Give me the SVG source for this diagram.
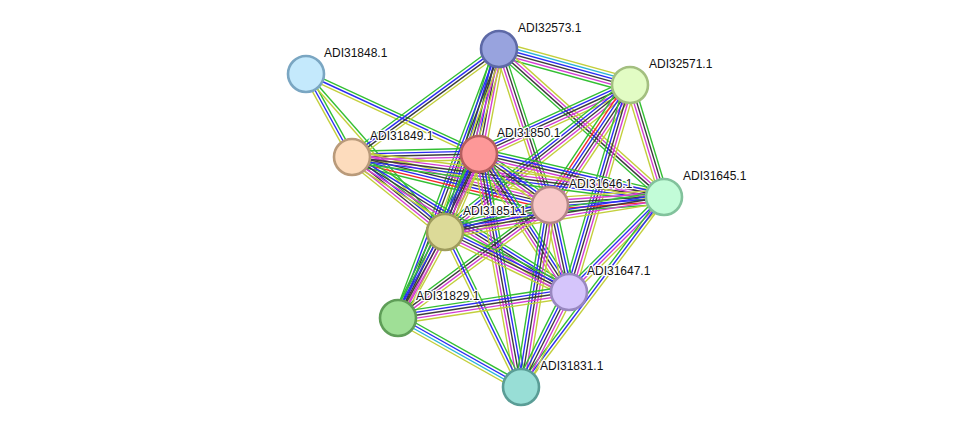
<svg xmlns="http://www.w3.org/2000/svg" width="975" height="433" viewBox="0 0 975 433">
<style>
line{stroke-width:1.15;fill:none}
.g{stroke:#33bf33}.r{stroke:#f52a2a}.b{stroke:#2b2bf2}.k{stroke:#3c3c3c}.m{stroke:#d23cd2}.c{stroke:#2ab3d9}.y{stroke:#c3cf3c}
.node circle{stroke-width:2.6}
text{font-family:"Liberation Sans",Arial,sans-serif;font-size:12px;fill:#111;paint-order:stroke;stroke:#fff;stroke-width:2.5px;stroke-linejoin:round}
</style>
<rect width="975" height="433" fill="#fff"/>
<g id="edges">
<g transform="translate(306 74) rotate(61.0) scale(1 1.2)"><line x2="94.9" y1="-2.4" y2="-2.4" class="g"/><line x2="94.9" class="b"/><line x2="94.9" y1="2.4" y2="2.4" class="y"/></g>
<g transform="translate(306 74) rotate(24.8) scale(1 1.2)"><line x2="190.6" y1="-2.4" y2="-2.4" class="g"/><line x2="190.6" class="b"/><line x2="190.6" y1="2.4" y2="2.4" class="y"/></g>
<g transform="translate(306 74) rotate(48.66) scale(1 1.2)"><line x2="210.4" y1="-1.2" y2="-1.2" class="g"/><line x2="210.4" y1="1.2" y2="1.2" class="y"/></g>
<g transform="translate(499 49) rotate(15.37) scale(1 1.2)"><line x2="135.9" y1="-6" y2="-6" class="y"/><line x2="135.9" y1="-3.6" y2="-3.6" class="c"/><line x2="135.9" y1="-1.2" y2="-1.2" class="b"/><line x2="135.9" y1="1.2" y2="1.2" class="k"/><line x2="135.9" y1="3.6" y2="3.6" class="m"/><line x2="135.9" y1="6" y2="6" class="g"/></g>
<g transform="translate(499 49) rotate(143.7) scale(1 1.2)"><line x2="182.4" y1="-3.6" y2="-3.6" class="y"/><line x2="182.4" y1="-1.2" y2="-1.2" class="k"/><line x2="182.4" y1="1.2" y2="1.2" class="b"/><line x2="182.4" y1="3.6" y2="3.6" class="g"/></g>
<g transform="translate(499 49) rotate(100.8) scale(1 1.2)"><line x2="106.9" y1="-4.8" y2="-4.8" class="y"/><line x2="106.9" y1="-2.4" y2="-2.4" class="m"/><line x2="106.9" class="k"/><line x2="106.9" y1="2.4" y2="2.4" class="b"/><line x2="106.9" y1="4.8" y2="4.8" class="g"/></g>
<g transform="translate(499 49) rotate(106.44) scale(1 1.2)"><line x2="190.8" y1="-4.8" y2="-4.8" class="y"/><line x2="190.8" y1="-2.4" y2="-2.4" class="m"/><line x2="190.8" class="k"/><line x2="190.8" y1="2.4" y2="2.4" class="b"/><line x2="190.8" y1="4.8" y2="4.8" class="g"/></g>
<g transform="translate(499 49) rotate(71.9) scale(1 1.2)"><line x2="164.1" y1="-3.6" y2="-3.6" class="g"/><line x2="164.1" y1="-1.2" y2="-1.2" class="k"/><line x2="164.1" y1="1.2" y2="1.2" class="m"/><line x2="164.1" y1="3.6" y2="3.6" class="y"/></g>
<g transform="translate(499 49) rotate(41.9) scale(1 1.2)"><line x2="221.7" y1="-3.6" y2="-3.6" class="y"/><line x2="221.7" y1="-1.2" y2="-1.2" class="m"/><line x2="221.7" y1="1.2" y2="1.2" class="k"/><line x2="221.7" y1="3.6" y2="3.6" class="g"/></g>
<g transform="translate(499 49) rotate(110.58) scale(1 1.2)"><line x2="287.3" y1="-3.6" y2="-3.6" class="y"/><line x2="287.3" y1="-1.2" y2="-1.2" class="k"/><line x2="287.3" y1="1.2" y2="1.2" class="b"/><line x2="287.3" y1="3.6" y2="3.6" class="g"/></g>
<g transform="translate(630 85) rotate(155.44) scale(1 1.2)"><line x2="166" y1="-4.8" y2="-4.8" class="y"/><line x2="166" y1="-2.4" y2="-2.4" class="m"/><line x2="166" class="k"/><line x2="166" y1="2.4" y2="2.4" class="b"/><line x2="166" y1="4.8" y2="4.8" class="g"/></g>
<g transform="translate(630 85) rotate(141.53) scale(1 1.2)"><line x2="236.3" y1="-4.8" y2="-4.8" class="y"/><line x2="236.3" y1="-2.4" y2="-2.4" class="m"/><line x2="236.3" class="k"/><line x2="236.3" y1="2.4" y2="2.4" class="b"/><line x2="236.3" y1="4.8" y2="4.8" class="g"/></g>
<g transform="translate(630 85) rotate(123.69) scale(1 1.2)"><line x2="144.2" y1="-6" y2="-6" class="y"/><line x2="144.2" y1="-3.6" y2="-3.6" class="m"/><line x2="144.2" y1="-1.2" y2="-1.2" class="k"/><line x2="144.2" y1="1.2" y2="1.2" class="b"/><line x2="144.2" y1="3.6" y2="3.6" class="r"/><line x2="144.2" y1="6" y2="6" class="g"/></g>
<g transform="translate(630 85) rotate(73.11) scale(1 1.2)"><line x2="117" y1="-3.6" y2="-3.6" class="g"/><line x2="117" y1="-1.2" y2="-1.2" class="k"/><line x2="117" y1="1.2" y2="1.2" class="m"/><line x2="117" y1="3.6" y2="3.6" class="y"/></g>
<g transform="translate(630 85) rotate(106.42) scale(1 1.2)"><line x2="215.8" y1="-4.8" y2="-4.8" class="y"/><line x2="215.8" y1="-2.4" y2="-2.4" class="m"/><line x2="215.8" class="k"/><line x2="215.8" y1="2.4" y2="2.4" class="b"/><line x2="215.8" y1="4.8" y2="4.8" class="g"/></g>
<g transform="translate(352 157) rotate(-1.35) scale(1 1.2)"><line x2="127" y1="-4.8" y2="-4.8" class="g"/><line x2="127" y1="-2.4" y2="-2.4" class="b"/><line x2="127" class="k"/><line x2="127" y1="2.4" y2="2.4" class="m"/><line x2="127" y1="4.8" y2="4.8" class="y"/></g>
<g transform="translate(352 157) rotate(13.63) scale(1 1.2)"><line x2="203.7" y1="-6" y2="-6" class="y"/><line x2="203.7" y1="-3.6" y2="-3.6" class="m"/><line x2="203.7" y1="-1.2" y2="-1.2" class="k"/><line x2="203.7" y1="1.2" y2="1.2" class="b"/><line x2="203.7" y1="3.6" y2="3.6" class="r"/><line x2="203.7" y1="6" y2="6" class="g"/></g>
<g transform="translate(352 157) rotate(38.88) scale(1 1.2)"><line x2="119.5" y1="-4.8" y2="-4.8" class="g"/><line x2="119.5" y1="-2.4" y2="-2.4" class="b"/><line x2="119.5" class="k"/><line x2="119.5" y1="2.4" y2="2.4" class="m"/><line x2="119.5" y1="4.8" y2="4.8" class="y"/></g>
<g transform="translate(352 157) rotate(31.89) scale(1 1.2)"><line x2="255.6" y1="-4.8" y2="-4.8" class="g"/><line x2="255.6" y1="-2.4" y2="-2.4" class="b"/><line x2="255.6" class="k"/><line x2="255.6" y1="2.4" y2="2.4" class="m"/><line x2="255.6" y1="4.8" y2="4.8" class="y"/></g>
<g transform="translate(352 157) rotate(7.31) scale(1 1.2)"><line x2="314.6" y1="-4.8" y2="-4.8" class="y"/><line x2="314.6" y1="-2.4" y2="-2.4" class="m"/><line x2="314.6" class="k"/><line x2="314.6" y1="2.4" y2="2.4" class="b"/><line x2="314.6" y1="4.8" y2="4.8" class="g"/></g>
<g transform="translate(479 154) rotate(113.55) scale(1 1.2)"><line x2="85.1" y1="-4.8" y2="-4.8" class="y"/><line x2="85.1" y1="-2.4" y2="-2.4" class="m"/><line x2="85.1" class="k"/><line x2="85.1" y1="2.4" y2="2.4" class="b"/><line x2="85.1" y1="4.8" y2="4.8" class="g"/></g>
<g transform="translate(479 154) rotate(35.69) scale(1 1.2)"><line x2="87.4" y1="-4.8" y2="-4.8" class="g"/><line x2="87.4" y1="-2.4" y2="-2.4" class="b"/><line x2="87.4" class="k"/><line x2="87.4" y1="2.4" y2="2.4" class="m"/><line x2="87.4" y1="4.8" y2="4.8" class="y"/></g>
<g transform="translate(479 154) rotate(13.09) scale(1 1.2)"><line x2="189.9" y1="-4.8" y2="-4.8" class="g"/><line x2="189.9" y1="-2.4" y2="-2.4" class="b"/><line x2="189.9" class="k"/><line x2="189.9" y1="2.4" y2="2.4" class="m"/><line x2="189.9" y1="4.8" y2="4.8" class="y"/></g>
<g transform="translate(479 154) rotate(56.89) scale(1 1.2)"><line x2="164.8" y1="-4.8" y2="-4.8" class="g"/><line x2="164.8" y1="-2.4" y2="-2.4" class="b"/><line x2="164.8" class="k"/><line x2="164.8" y1="2.4" y2="2.4" class="m"/><line x2="164.8" y1="4.8" y2="4.8" class="y"/></g>
<g transform="translate(479 154) rotate(116.29) scale(1 1.2)"><line x2="182.9" y1="-4.8" y2="-4.8" class="y"/><line x2="182.9" y1="-2.4" y2="-2.4" class="m"/><line x2="182.9" class="k"/><line x2="182.9" y1="2.4" y2="2.4" class="b"/><line x2="182.9" y1="4.8" y2="4.8" class="g"/></g>
<g transform="translate(479 154) rotate(79.78) scale(1 1.2)"><line x2="236.8" y1="-4.8" y2="-4.8" class="g"/><line x2="236.8" y1="-2.4" y2="-2.4" class="b"/><line x2="236.8" class="k"/><line x2="236.8" y1="2.4" y2="2.4" class="m"/><line x2="236.8" y1="4.8" y2="4.8" class="y"/></g>
<g transform="translate(550 205) rotate(-4.01) scale(1 1.2)"><line x2="114.3" y1="-6" y2="-6" class="y"/><line x2="114.3" y1="-3.6" y2="-3.6" class="m"/><line x2="114.3" y1="-1.2" y2="-1.2" class="k"/><line x2="114.3" y1="1.2" y2="1.2" class="b"/><line x2="114.3" y1="3.6" y2="3.6" class="r"/><line x2="114.3" y1="6" y2="6" class="g"/></g>
<g transform="translate(550 205) rotate(165.58) scale(1 1.2)"><line x2="108.4" y1="-4.8" y2="-4.8" class="y"/><line x2="108.4" y1="-2.4" y2="-2.4" class="m"/><line x2="108.4" class="k"/><line x2="108.4" y1="2.4" y2="2.4" class="b"/><line x2="108.4" y1="4.8" y2="4.8" class="g"/></g>
<g transform="translate(550 205) rotate(77.68) scale(1 1.2)"><line x2="89.1" y1="-4.8" y2="-4.8" class="g"/><line x2="89.1" y1="-2.4" y2="-2.4" class="b"/><line x2="89.1" class="k"/><line x2="89.1" y1="2.4" y2="2.4" class="m"/><line x2="89.1" y1="4.8" y2="4.8" class="y"/></g>
<g transform="translate(550 205) rotate(143.37) scale(1 1.2)"><line x2="189.4" y1="-3.6" y2="-3.6" class="y"/><line x2="189.4" y1="-1.2" y2="-1.2" class="m"/><line x2="189.4" y1="1.2" y2="1.2" class="k"/><line x2="189.4" y1="3.6" y2="3.6" class="g"/></g>
<g transform="translate(550 205) rotate(99.05) scale(1 1.2)"><line x2="184.3" y1="-4.8" y2="-4.8" class="y"/><line x2="184.3" y1="-2.4" y2="-2.4" class="m"/><line x2="184.3" class="k"/><line x2="184.3" y1="2.4" y2="2.4" class="b"/><line x2="184.3" y1="4.8" y2="4.8" class="g"/></g>
<g transform="translate(664 197) rotate(170.92) scale(1 1.2)"><line x2="221.8" y1="-4.8" y2="-4.8" class="y"/><line x2="221.8" y1="-2.4" y2="-2.4" class="m"/><line x2="221.8" class="k"/><line x2="221.8" y1="2.4" y2="2.4" class="b"/><line x2="221.8" y1="4.8" y2="4.8" class="g"/></g>
<g transform="translate(664 197) rotate(135) scale(1 1.2)"><line x2="134.4" y1="-3.6" y2="-3.6" class="y"/><line x2="134.4" y1="-1.2" y2="-1.2" class="m"/><line x2="134.4" y1="1.2" y2="1.2" class="b"/><line x2="134.4" y1="3.6" y2="3.6" class="g"/></g>
<g transform="translate(664 197) rotate(126.97) scale(1 1.2)"><line x2="237.8" y1="-2.4" y2="-2.4" class="y"/><line x2="237.8" class="b"/><line x2="237.8" y1="2.4" y2="2.4" class="g"/></g>
<g transform="translate(445 232) rotate(25.82) scale(1 1.2)"><line x2="137.8" y1="-4.8" y2="-4.8" class="g"/><line x2="137.8" y1="-2.4" y2="-2.4" class="b"/><line x2="137.8" class="k"/><line x2="137.8" y1="2.4" y2="2.4" class="m"/><line x2="137.8" y1="4.8" y2="4.8" class="y"/></g>
<g transform="translate(445 232) rotate(118.66) scale(1 1.2)"><line x2="98" y1="-4.8" y2="-4.8" class="y"/><line x2="98" y1="-2.4" y2="-2.4" class="m"/><line x2="98" class="k"/><line x2="98" y1="2.4" y2="2.4" class="b"/><line x2="98" y1="4.8" y2="4.8" class="g"/></g>
<g transform="translate(445 232) rotate(63.88) scale(1 1.2)"><line x2="172.6" y1="-2.4" y2="-2.4" class="g"/><line x2="172.6" class="b"/><line x2="172.6" y1="2.4" y2="2.4" class="y"/></g>
<g transform="translate(569 292) rotate(171.35) scale(1 1.2)"><line x2="173" y1="-4.8" y2="-4.8" class="y"/><line x2="173" y1="-2.4" y2="-2.4" class="m"/><line x2="173" class="k"/><line x2="173" y1="2.4" y2="2.4" class="b"/><line x2="173" y1="4.8" y2="4.8" class="g"/></g>
<g transform="translate(569 292) rotate(116.81) scale(1 1.2)"><line x2="106.4" y1="-4.8" y2="-4.8" class="y"/><line x2="106.4" y1="-2.4" y2="-2.4" class="m"/><line x2="106.4" class="k"/><line x2="106.4" y1="2.4" y2="2.4" class="b"/><line x2="106.4" y1="4.8" y2="4.8" class="g"/></g>
<g transform="translate(398 318) rotate(29.29) scale(1 1.2)"><line x2="141" y1="-3.6" y2="-3.6" class="g"/><line x2="141" y1="-1.2" y2="-1.2" class="b"/><line x2="141" y1="1.2" y2="1.2" class="c"/><line x2="141" y1="3.6" y2="3.6" class="y"/></g>
</g>
<g id="n-ADI32573" class="node"><circle cx="499" cy="49" r="18" fill="#98a3de" stroke="#5d69a6"/></g>
<g id="n-ADI31848" class="node"><circle cx="306" cy="74" r="18" fill="#c4e9fc" stroke="#7aa6c2"/></g>
<g id="n-ADI32571" class="node"><circle cx="630" cy="85" r="18" fill="#e2fcc4" stroke="#a3bf80"/></g>
<g id="n-ADI31849" class="node"><circle cx="352" cy="157" r="18" fill="#fddcbd" stroke="#b99a7a"/></g>
<g id="n-ADI31850" class="node"><circle cx="479" cy="154" r="18" fill="#fd9898" stroke="#b55e5e"/></g>
<g id="n-ADI31646" class="node"><circle cx="550" cy="205" r="18" fill="#f8c8c8" stroke="#b58787"/></g>
<g id="n-ADI31645" class="node"><circle cx="664" cy="197" r="18" fill="#c2fcd8" stroke="#82c29c"/></g>
<g id="n-ADI31851" class="node"><circle cx="445" cy="232" r="18" fill="#dcda98" stroke="#9f9c5d"/></g>
<g id="n-ADI31647" class="node"><circle cx="569" cy="292" r="18" fill="#d5c5fb" stroke="#9988c0"/></g>
<g id="n-ADI31829" class="node"><circle cx="398" cy="318" r="18" fill="#9fdf96" stroke="#5f9e58"/></g>
<g id="n-ADI31831" class="node"><circle cx="521" cy="387" r="18" fill="#98ded6" stroke="#5a9d96"/></g>
<g id="labels">
<text x="518" y="32">ADI32573.1</text>
<text x="324" y="57">ADI31848.1</text>
<text x="649" y="68">ADI32571.1</text>
<text x="370" y="140">ADI31849.1</text>
<text x="497" y="137">ADI31850.1</text>
<text x="569" y="188">ADI31646.1</text>
<text x="683" y="180">ADI31645.1</text>
<text x="463" y="215">ADI31851.1</text>
<text x="587" y="275">ADI31647.1</text>
<text x="416" y="300">ADI31829.1</text>
<text x="540" y="370">ADI31831.1</text>
</g>
</svg>
